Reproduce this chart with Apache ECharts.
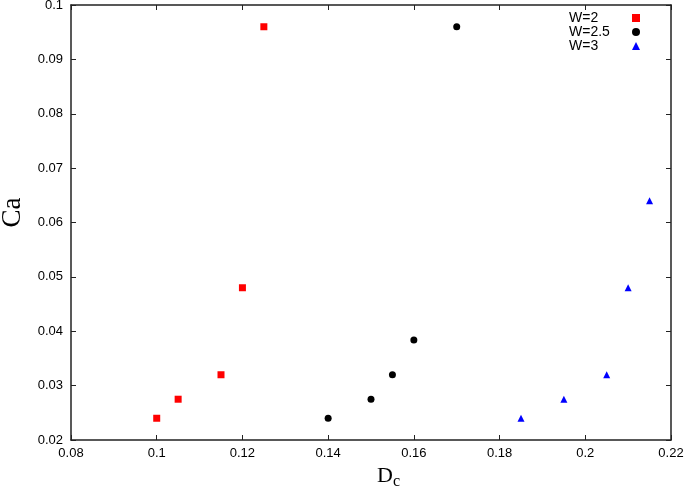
<!DOCTYPE html>
<html>
<head>
<meta charset="utf-8">
<script src="https://cdn.jsdelivr.net/npm/echarts@6/dist/echarts.min.js"></script>
<style>html,body{margin:0;padding:0;background:#fff}#c{width:685px;height:494px}</style>
</head>
<body>
<div id="c"></div>
<script>
var seriesNames = ['W=2', 'W=2.5', 'W=3'];
var w2x = [0.1, 0.105, 0.115, 0.12, 0.125];
var w2y = [0.024, 0.0275, 0.032, 0.048, 0.096];
var w25x = [0.14, 0.15, 0.155, 0.16, 0.17];
var w25y = [0.024, 0.0275, 0.032, 0.0384, 0.096];
var w3x = [0.185, 0.195, 0.205, 0.21, 0.215];
var w3y = [0.024, 0.0275, 0.032, 0.048, 0.064];
var xTicks = [0.08, 0.1, 0.12, 0.14, 0.16, 0.18, 0.2, 0.22];
var yTicks = [0.02, 0.03, 0.04, 0.05, 0.06, 0.07, 0.08, 0.09, 0.1];

function pairs(xs, ys) { return xs.map(function (x, i) { return [x, ys[i]]; }); }

var chart = echarts.init(document.getElementById('c'));
var axisLine = { show: true, lineStyle: { color: '#222', width: 1.5 } };
var tick = { show: true, inside: true, length: 5, lineStyle: { color: '#222', width: 1 } };
var fmt = function (v) { return String(parseFloat(v.toFixed(4))); };
var labelStyle = { fontFamily: 'Liberation Sans', fontSize: 13, color: '#000' };

chart.setOption({
  animation: false,
  grid: { left: 71, top: 5, right: 14, bottom: 54, containLabel: false, outerBoundsMode: 'none' },
  legend: {
    left: 564, top: 6, orient: 'vertical', align: 'right',
    itemWidth: 8, itemHeight: 8, itemGap: 0,
    formatter: function (n) { return '{t|' + n + '}'; },
    textStyle: {
      fontFamily: 'Liberation Sans', fontSize: 14, color: '#000', lineHeight: 12.5,
      rich: { t: { width: 58, align: 'left', fontFamily: 'Liberation Sans', fontSize: 14, color: '#000', lineHeight: 12.5 } }
    },
    data: seriesNames
  },
  xAxis: [{
    type: 'value', min: xTicks[0], max: xTicks[xTicks.length - 1], interval: 0.02,
    axisLine: axisLine, axisTick: tick, splitLine: { show: false },
    axisLabel: Object.assign({ margin: 7, formatter: fmt }, labelStyle),
    name: '{a|D}{b|c}', nameLocation: 'middle', nameGap: 22,
    nameTextStyle: {
      padding: [0, 0, 0, 35],
      rich: {
        a: { fontFamily: 'Liberation Serif', fontSize: 22, color: '#000' },
        b: { fontFamily: 'Liberation Serif', fontSize: 16, color: '#000', verticalAlign: 'bottom', padding: [12, 0, 0, 0] }
      }
    }
  }, {
    type: 'value', position: 'top', min: xTicks[0], max: xTicks[xTicks.length - 1], interval: 0.02,
    axisLine: axisLine, axisTick: tick, splitLine: { show: false }, axisLabel: { show: false }
  }],
  yAxis: [{
    type: 'value', min: yTicks[0], max: yTicks[yTicks.length - 1], interval: 0.01,
    axisLine: axisLine, axisTick: tick, splitLine: { show: false },
    axisLabel: Object.assign({ margin: 8, formatter: fmt }, labelStyle),
    name: 'Ca', nameLocation: 'middle', nameGap: 42, nameRotate: 90,
    nameTextStyle: { fontFamily: 'Liberation Serif', fontSize: 27, color: '#000', padding: [0, 0, 0, 20] }
  }, {
    type: 'value', position: 'right', min: yTicks[0], max: yTicks[yTicks.length - 1], interval: 0.01,
    axisLine: axisLine, axisTick: tick, splitLine: { show: false }, axisLabel: { show: false }
  }],
  series: [
    { name: seriesNames[0], type: 'scatter', symbol: 'rect', symbolSize: 7, itemStyle: { color: '#ff0000', opacity: 1 }, data: pairs(w2x, w2y) },
    { name: seriesNames[1], type: 'scatter', symbol: 'circle', symbolSize: 7, itemStyle: { color: '#000000', opacity: 1 }, data: pairs(w25x, w25y) },
    { name: seriesNames[2], type: 'scatter', symbol: 'triangle', symbolSize: 7, itemStyle: { color: '#0000ff', opacity: 1 }, data: pairs(w3x, w3y) }
  ]
});
</script>
</body>
</html>
